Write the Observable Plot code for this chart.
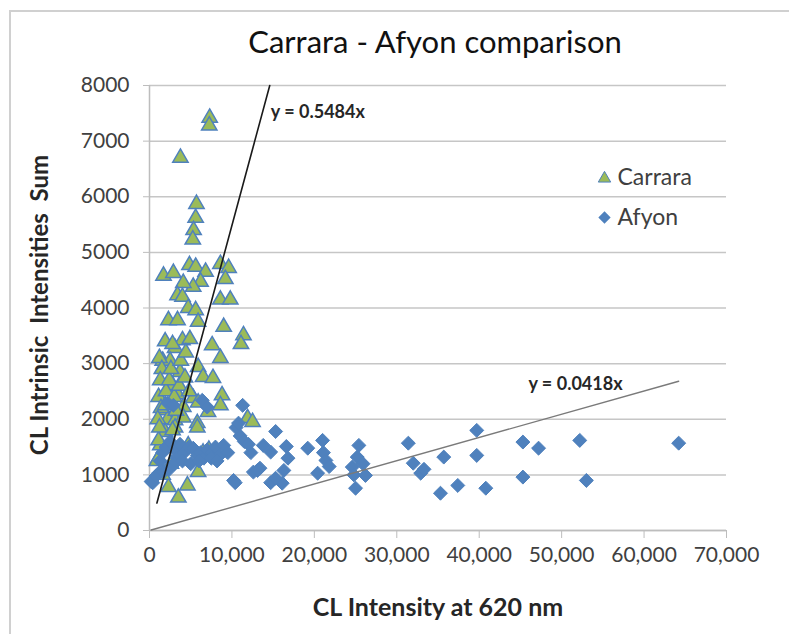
<!DOCTYPE html>
<html><head><meta charset="utf-8">
<script src="https://cdn.jsdelivr.net/npm/d3@7"></script>
<script src="https://cdn.jsdelivr.net/npm/@observablehq/plot@0.6"></script>
<style>
body{margin:0;background:#fff;}
#wrap{position:relative;width:789px;height:634px;overflow:hidden;}
#border{position:absolute;left:9px;top:10px;width:800px;height:660px;border:2px solid #d0d0d0;pointer-events:none;}
</style></head><body><div id="wrap"><div id="border"></div></div>
<script>
const title = "Carrara - Afyon comparison";
const xTitle = "CL Intensity at 620 nm";
const yTitle = "CL Intrinsic\u00a0 Intensities\u00a0 Sum";
const seriesNames = ["Carrara", "Afyon"];
const xTicks = [0, 10000, 20000, 30000, 40000, 50000, 60000, 70000];
const yTicks = [0, 1000, 2000, 3000, 4000, 5000, 6000, 7000, 8000];
const slopes = [0.5484, 0.0418];

const carraraX = [7300,7250,3750,5700,5600,5350,5250,1700,2900,4850,5600,6800,8600,9600,9200,6200,5300,4100,3400,4000,4700,5600,8600,9800,2300,3400,5900,9000,11400,11100,1900,3100,4000,4900,7600,1600,2500,3700,5900,8600,6500,7700,2800,3400,4100,5300,5900,8800,8600,7100,1700,2200,3100,4100,5800,11900,12500,1100,1300,1900,3100,5800,4700,5900,2300,3500,4600,1100,1200,1500,1300,1100,1400,1000,1200,900,2000,2400,2600,1900,2800,3200,3000,3600,4300,4800,3800,4400,2800,6500,7200,2600,1600];
const carraraY = [7420,7280,6700,5870,5620,5400,5230,4580,4630,4770,4740,4650,4790,4720,4520,4470,4380,4450,4230,4200,4000,3960,4150,4150,3780,3780,3750,3660,3510,3350,3400,3280,3420,3440,3330,3050,3050,2850,2940,3100,2760,2740,2610,2450,2220,2380,2300,2430,2250,2130,2160,2000,1980,2030,1930,2020,1950,1300,1530,1770,1850,1850,1530,1050,780,590,810,1620,3100,2900,2700,2400,2200,2000,1850,1250,2500,2700,2900,2250,1800,2150,2400,2600,2750,2500,3050,3200,3350,1400,1450,1200,1000];

const afyonX = [200,400,1100,800,1300,1600,2000,2200,2900,2500,3000,3300,3700,4200,4800,5300,5800,6200,6600,7000,7600,8000,8500,9000,6400,7000,10500,11300,10800,11000,11500,12300,12000,12600,13400,13800,10200,10400,3000,4000,5000,2400,1700,6000,7500,9500,8200,13100,14700,15300,16600,16300,14700,16100,16800,19200,21000,21100,21400,20400,21800,25400,25200,24600,26200,25000,25900,24800,31400,32000,32900,33300,35700,35300,37400,39700,39700,40800,45300,47200,52200,64200,45300,53000,15300];
const afyonY = [880,860,1030,980,1250,1400,1500,2290,2250,1600,1450,1300,1550,1400,1500,1480,1350,1400,1300,1450,1400,1500,1350,1530,2340,2220,1850,2250,1930,1700,1600,1400,1550,1050,1120,1530,900,860,1200,1250,1200,1100,1050,1250,1300,1400,1250,1080,1410,1780,1510,1080,860,850,1300,1480,1620,1400,1260,1030,1150,1530,1320,1140,990,760,1200,1000,1570,1210,1030,1100,1320,670,810,1800,1350,760,1590,1480,1620,1570,960,900,940];

const carrara = carraraX.map((x, i) => ({x, y: carraraY[i]}));
const afyon = afyonX.map((x, i) => ({x, y: afyonY[i]}));
const yMax = d3.max(yTicks);
const cMin = d3.min(carraraX);
const carTrend = [{x: cMin, y: slopes[0] * cMin}, {x: yMax / slopes[0], y: yMax}];
const aMin = d3.min(afyonX), aMax = d3.max(afyonX);
const afyTrend = [{x: aMin, y: slopes[1] * aMin}, {x: aMax, y: slopes[1] * aMax}];
const aLabelX = aMax * 0.805;

const FONT = '"Lato", sans-serif';
const BLUE = "#4F81BD", GREEN = "#9BBB59", GRID = "#c6c6c6", TXT = "#404040";

const chart = Plot.plot({
  width: 789, height: 634,
  marginLeft: 149, marginRight: 63, marginTop: 85, marginBottom: 104,
  x: {domain: [0, 70000], label: null},
  y: {domain: [0, 8000], label: null},
  style: {fontFamily: FONT, fontSize: "21px", background: "transparent", color: TXT},
  marks: [
    Plot.gridY(yTicks, {stroke: GRID, strokeOpacity: 1, strokeWidth: 1.5}),
    Plot.ruleX([0], {stroke: "#bdbdbd", strokeWidth: 1.5}),
    Plot.ruleY([0], {stroke: "#bdbdbd", strokeWidth: 1.5}),
    Plot.axisY(yTicks, {tickSize: 6, tickPadding: 14, stroke: "#bdbdbd", fill: TXT, fontSize: 21, tickFormat: d => String(d)}),
    Plot.axisX(xTicks, {tickSize: 8, tickPadding: 9, stroke: "#bdbdbd", fill: TXT, fontSize: 21, tickFormat: d3.format(",")}),
    Plot.dot(carrara, {x: "x", y: "y", symbol: "triangle", r: 5.7, fill: GREEN, stroke: BLUE, strokeWidth: 1.5}),
    Plot.dot(afyon, {x: "x", y: "y", symbol: "diamond2", r: 6.3, fill: BLUE, stroke: BLUE, strokeWidth: 1}),
    Plot.line(carTrend, {x: "x", y: "y", stroke: "#1a1a1a", strokeWidth: 1.6}),
    Plot.line(afyTrend, {x: "x", y: "y", stroke: "#7a7a7a", strokeWidth: 1.4}),
    Plot.text([carTrend[1]], {x: "x", y: "y", text: d => "y = " + slopes[0] + "x", textAnchor: "start", dx: 1, dy: 27, fontSize: 18, fontWeight: "bold", fill: "#262626"}),
    Plot.text([{x: aLabelX, y: slopes[1] * aLabelX}], {x: "x", y: "y", text: d => "y = " + slopes[1] + "x", textAnchor: "middle", dx: 0, dy: -26, fontSize: 18, fontWeight: "bold", fill: "#262626"}),
    Plot.text([title], {text: d => d, frameAnchor: "top", dy: -42, dx: -3, lineAnchor: "middle", fontSize: 31, fill: "#111"}),
    Plot.text([xTitle], {text: d => d, frameAnchor: "bottom", dy: 77, lineAnchor: "middle", fontSize: 25, fontWeight: "bold", fill: "#262626"}),
    Plot.text([yTitle], {text: d => d, frameAnchor: "left", dx: -109, dy: -3, rotate: -90, textAnchor: "middle", lineAnchor: "middle", fontSize: 24, fontWeight: "bold", fill: "#262626"}),
    Plot.dot([seriesNames[0]], {frameAnchor: "top-right", dx: -122, dy: 93, symbol: "triangle", r: 4.6, fill: GREEN, stroke: BLUE, strokeWidth: 1}),
    Plot.dot([seriesNames[1]], {frameAnchor: "top-right", dx: -122, dy: 132, symbol: "diamond2", r: 4.6, fill: BLUE, stroke: BLUE}),
    Plot.text([seriesNames[0]], {text: d => d, frameAnchor: "top-right", dx: -109, dy: 92, textAnchor: "start", lineAnchor: "middle", fontSize: 23, fill: TXT}),
    Plot.text([seriesNames[1]], {text: d => d, frameAnchor: "top-right", dx: -109, dy: 132, textAnchor: "start", lineAnchor: "middle", fontSize: 23, fill: TXT})
  ]
});
document.getElementById("wrap").prepend(chart);
</script>
</body></html>
